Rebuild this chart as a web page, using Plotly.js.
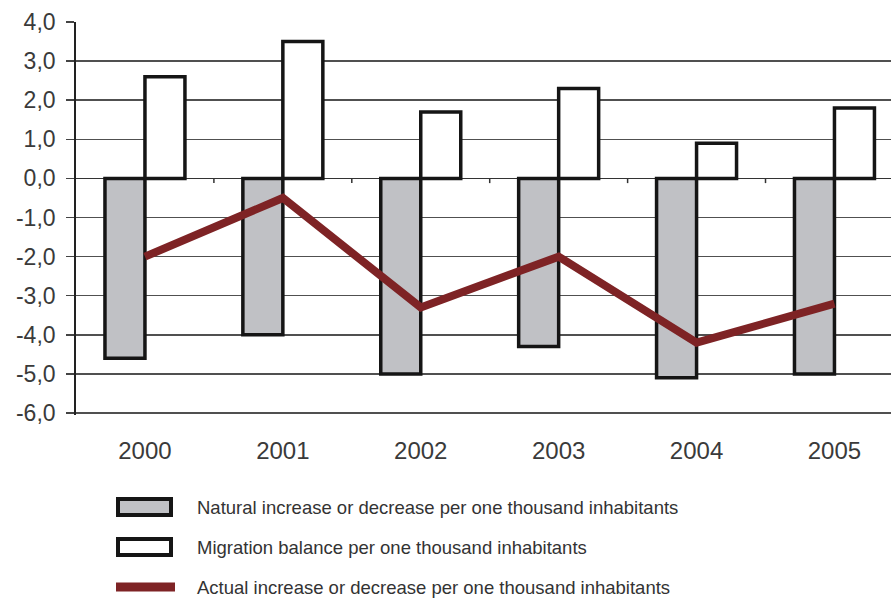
<!DOCTYPE html>
<html>
<head>
<meta charset="utf-8">
<script src="https://cdn.plot.ly/plotly-3.0.1.min.js"></script>
<style>html,body{margin:0;padding:0;background:#fff}#chart{width:891px;height:601px}</style>
</head>
<body>
<div id="chart"></div>
<script>
const years = ["2000", "2001", "2002", "2003", "2004", "2005"];
const naturalChange = [-4.6, -4.0, -5.0, -4.3, -5.1, -5.0];
const migrationBalance = [2.6, 3.5, 1.7, 2.3, 0.9, 1.8];
const actualChange = [-2.0, -0.5, -3.3, -2.0, -4.2, -3.2];
const yTickValues = [4, 3, 2, 1, 0, -1, -2, -3, -4, -5, -6];
const yTickLabels = ["4,0", "3,0", "2,0", "1,0", "0,0", "-1,0", "-2,0", "-3,0", "-4,0", "-5,0", "-6,0"];
const seriesNames = [
  "Natural increase or decrease per one thousand inhabitants",
  "Migration balance per one thousand inhabitants",
  "Actual increase or decrease per one thousand inhabitants"
];

const font = "Liberation Sans, Arial, sans-serif";
const textColor = "#3a3a3a";
const naturalFill = "#c0c1c5";
const outline = "#151515";
const lineColor = "#7e2325";

// plot geometry (pixels)
const W = 891, H = 601;
const M = {l: 76, r: 0, t: 22, b: 186};
const plotW = W - M.l - M.r, plotH = H - M.t - M.b;
const px2x = px => (px - M.l) / plotW;
const px2y = py => (H - M.b - py) / plotH;

const traces = [
  {
    type: "bar", x: years, y: naturalChange, name: seriesNames[0],
    marker: {color: naturalFill, line: {color: outline, width: 3.5}},
    hoverinfo: "skip"
  },
  {
    type: "bar", x: years, y: migrationBalance, name: seriesNames[1],
    marker: {color: "#ffffff", line: {color: outline, width: 3.5}},
    hoverinfo: "skip"
  },
  {
    type: "scatter", mode: "lines", x: years, y: actualChange, name: seriesNames[2],
    line: {color: lineColor, width: 8},
    hoverinfo: "skip"
  }
];

// small tick marks on the zero line at category boundaries
const shapes = [];
for (let i = 0; i < years.length; i++) {
  shapes.push({
    type: "line", xref: "x", yref: "y",
    x0: i + 0.5, x1: i + 0.5, y0: 0, y1: -0.12,
    line: {color: "#333", width: 1.5}, layer: "below"
  });
}

// legend drawn below the plot
const legendRowsPx = [507, 547, 587];
const annotations = [];
seriesNames.forEach((name, i) => {
  const cy = legendRowsPx[i];
  if (i < 2) {
    shapes.push({
      type: "rect", xref: "paper", yref: "paper",
      x0: px2x(118), x1: px2x(171), y0: px2y(cy - 8), y1: px2y(cy + 8),
      fillcolor: i === 0 ? naturalFill : "#ffffff",
      line: {color: outline, width: 4}
    });
  } else {
    shapes.push({
      type: "line", xref: "paper", yref: "paper",
      x0: px2x(116), x1: px2x(175), y0: px2y(cy), y1: px2y(cy),
      line: {color: lineColor, width: 9}
    });
  }
  annotations.push({
    xref: "paper", yref: "paper", x: px2x(195), y: px2y(cy),
    xanchor: "left", yanchor: "middle", showarrow: false,
    text: name, font: {family: font, size: 18.5, color: "#333"}
  });
});

const layout = {
  width: W, height: H,
  margin: M,
  paper_bgcolor: "#ffffff", plot_bgcolor: "#ffffff",
  barmode: "group", bargap: 0.42, bargroupgap: 0,
  showlegend: false,
  font: {family: font, color: textColor},
  xaxis: {
    type: "category", categoryarray: years, range: [-0.5, 5.41],
    showgrid: false, showline: false, zeroline: false,
    ticks: "outside", ticklen: 14, tickcolor: "rgba(0,0,0,0)",
    tickfont: {family: font, size: 24, color: textColor},
    fixedrange: true, automargin: false
  },
  yaxis: {
    range: [-6.05, 4.0], tickvals: yTickValues, ticktext: yTickLabels,
    showgrid: true, gridcolor: "#505050", gridwidth: 1.5,
    zeroline: true, zerolinecolor: "#333", zerolinewidth: 1.8,
    showline: true, linecolor: "#222", linewidth: 1.8,
    ticks: "outside", ticklen: 8, tickwidth: 1.5, tickcolor: "#444",
    ticklabelstandoff: 6,
    tickfont: {family: font, size: 23, color: textColor},
    automargin: false
  },
  shapes: shapes,
  annotations: annotations
};

Plotly.newPlot("chart", traces, layout, {displayModeBar: false, staticPlot: true});
</script>
</body>
</html>
